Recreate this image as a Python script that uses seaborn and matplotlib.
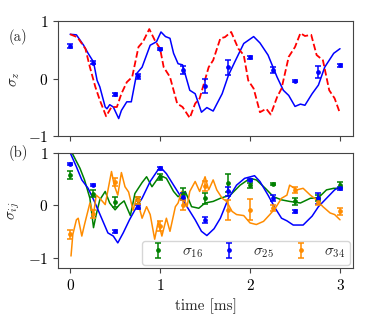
import numpy as np
import pandas as pd
import matplotlib
matplotlib.use("Agg")
import matplotlib.pyplot as plt
import seaborn as sns

# measurement times (ms)
t_meas = [0, 0.25, 0.5, 0.75, 1.0, 1.25, 1.5, 1.75, 2.0, 2.25, 2.5, 2.75, 3.0]

# panel (a): sigma_z measured
sz_meas = [0.57, 0.28, -0.27, 0.04, 0.51, 0.15, -0.13, 0.20, 0.37, 0.15, -0.04, 0.12, 0.23]
sz_err = [0.04, 0.02, 0.03, 0.05, 0.02, 0.07, 0.12, 0.13, 0.02, 0.05, 0.02, 0.10, 0.02]

# panel (a): simulation, solid blue
ta_blue = [0, 0.07, 0.15, 0.2, 0.26, 0.30, 0.33, 0.39, 0.41, 0.44, 0.48, 0.54, 0.57, 0.63,
           0.68, 0.74, 0.8, 0.89, 0.96, 1.01, 1.06, 1.11, 1.15, 1.2, 1.25, 1.33, 1.39, 1.46,
           1.52, 1.59, 1.69, 1.76, 1.83, 1.93, 2.04, 2.11, 2.2, 2.30, 2.37, 2.43, 2.5, 2.56,
           2.61, 2.69, 2.76, 2.83, 2.93, 3.0]
ya_blue = [0.77, 0.76, 0.58, 0.44, 0.29, -0.03, -0.14, -0.49, -0.52, -0.45, -0.49, -0.69, -0.55, -0.40,
           -0.40, 0.09, 0.20, 0.58, 0.64, 0.81, 0.73, 0.70, 0.44, 0.26, 0.24, -0.20, -0.26, -0.58,
           -0.50, -0.56, -0.26, 0.06, 0.29, 0.61, 0.73, 0.62, 0.41, 0.03, -0.20, -0.29, -0.48, -0.44,
           -0.46, -0.26, -0.11, 0.20, 0.44, 0.52]

# panel (a): ideal, dashed red
ta_red = [0, 0.08, 0.17, 0.22, 0.28, 0.33, 0.4, 0.46, 0.52, 0.57, 0.63, 0.69, 0.76, 0.81,
          0.88, 0.94, 1.0, 1.04, 1.11, 1.19, 1.25, 1.33, 1.39, 1.44, 1.54, 1.59, 1.67, 1.72,
          1.79, 1.87, 1.93, 1.98, 2.04, 2.11, 2.18, 2.23, 2.30, 2.35, 2.43, 2.5, 2.56, 2.61,
          2.68, 2.74, 2.81, 2.88, 2.94, 3.0]
ya_red = [0.77, 0.72, 0.52, 0.20, -0.14, -0.37, -0.65, -0.49, -0.49, -0.26, -0.06, 0.03, 0.55, 0.64,
          0.86, 0.67, 0.52, 0.20, 0.03, -0.43, -0.49, -0.68, -0.43, -0.34, 0.20, 0.32, 0.70, 0.72,
          0.81, 0.52, 0.41, -0.03, -0.17, -0.58, -0.52, -0.62, -0.32, -0.17, 0.38, 0.55, 0.79, 0.74,
          0.76, 0.41, 0.32, -0.20, -0.34, -0.60]

# panel (b): measured correlations
s16 = [0.57, 0.22, 0.06, 0.09, 0.54, 0.22, 0.13, 0.42, 0.38, 0.41, 0.07, 0.14, 0.38]
s16_err = [0.08, 0.07, 0.10, 0.06, 0.06, 0.10, 0.10, 0.17, 0.05, 0.02, 0.06, 0.06, 0.06]
s25 = [0.79, 0.38, -0.50, -0.03, 0.70, 0.16, -0.28, 0.26, 0.48, 0.13, -0.12, 0.13, 0.32]
s25_err = [0.02, 0.02, 0.03, 0.04, 0.03, 0.07, 0.06, 0.09, 0.02, 0.06, 0.03, 0.10, 0.03]
s34 = [-0.56, -0.17, 0.44, 0.09, -0.40, 0.0, 0.36, -0.09, -0.09, -0.05, 0.29, 0.06, -0.12]
s34_err = [0.08, 0.07, 0.07, 0.06, 0.10, 0.10, 0.10, 0.19, 0.20, 0.06, 0.06, 0.06, 0.06]

# panel (b): simulations
tb_green = [0.02, 0.11, 0.16, 0.22, 0.26, 0.29, 0.33, 0.39, 0.44, 0.5, 0.55, 0.6, 0.67, 0.72,
            0.8, 0.85, 0.91, 1.0, 1.07, 1.15, 1.2, 1.28, 1.35, 1.43, 1.5, 1.59, 1.67, 1.78,
            1.89, 2.0, 2.07, 2.17, 2.26, 2.35, 2.44, 2.56, 2.67, 2.76, 2.85, 2.93, 3.0]
yb_green = [1.0, 0.70, 0.48, 0.13, -0.43, -0.18, 0.10, 0.26, 0.04, -0.09, 0.01, 0.08, -0.20, 0.22,
            0.43, 0.54, 0.35, 0.57, 0.51, 0.26, 0.16, 0.26, -0.03, -0.06, 0.04, 0.07, 0.13, 0.19,
            0.38, 0.51, 0.48, 0.32, 0.16, 0.10, 0.07, 0.04, 0.13, 0.14, 0.29, 0.32, 0.32]
tb_blue = [0.0, 0.07, 0.13, 0.2, 0.27, 0.35, 0.42, 0.48, 0.53, 0.59, 0.66, 0.74, 0.8, 0.89,
           1.0, 1.07, 1.15, 1.22, 1.31, 1.39, 1.46, 1.52, 1.6, 1.67, 1.76, 1.85, 1.94, 2.05,
           2.11, 2.2, 2.28, 2.35, 2.41, 2.48, 2.59, 2.69, 2.76, 2.85, 2.94, 3.0]
yb_blue = [1.0, 0.73, 0.48, 0.32, 0.07, -0.25, -0.53, -0.59, -0.72, -0.53, -0.28, -0.03, 0.13, 0.45,
           0.73, 0.60, 0.38, 0.19, -0.06, -0.28, -0.50, -0.58, -0.45, -0.25, 0.13, 0.38, 0.51, 0.56,
           0.45, 0.19, -0.06, -0.25, -0.30, -0.38, -0.38, -0.21, -0.03, 0.13, 0.29, 0.35]
tb_orange = [0.01, 0.03, 0.07, 0.09, 0.13, 0.16, 0.22, 0.26, 0.29, 0.33, 0.39, 0.46, 0.49, 0.53,
             0.57, 0.61, 0.65, 0.7, 0.74, 0.76, 0.8, 0.85, 0.89, 0.94, 0.98, 1.02, 1.07, 1.11,
             1.17, 1.2, 1.24, 1.3, 1.33, 1.39, 1.44, 1.5, 1.54, 1.59, 1.63, 1.69, 1.74, 1.8,
             1.85, 1.93, 2.0, 2.07, 2.15, 2.22, 2.28, 2.35, 2.41, 2.44, 2.52, 2.59, 2.67, 2.74,
             2.81, 2.89, 2.94, 3.0]
yb_orange = [-0.97, -0.56, -0.28, -0.25, -0.59, -0.37, 0.04, -0.18, 0.19, 0.13, 0.01, 0.64, 0.38, 0.19,
             0.62, 0.35, 0.25, -0.10, 0.16, 0.01, -0.25, -0.03, -0.18, -0.65, -0.31, -0.59, -0.25, -0.50,
             -0.03, 0.04, 0.26, -0.03, 0.26, 0.45, 0.26, 0.54, 0.29, 0.48, 0.29, 0.13, 0.07, -0.12,
             -0.18, -0.20, -0.34, -0.37, -0.31, -0.18, -0.06, 0.13, 0.19, 0.38, 0.29, 0.32, 0.19, 0.10,
             -0.03, -0.15, -0.18, -0.28]

sns.set_style("ticks")
plt.rcParams['font.family'] = ['cmr10', 'DejaVu Serif']
plt.rcParams['mathtext.fontset'] = 'cm'
plt.rcParams['axes.formatter.use_mathtext'] = True
plt.rcParams['axes.unicode_minus'] = True
plt.rcParams['font.size'] = 11
plt.rcParams['axes.edgecolor'] = '#444444'
plt.rcParams['xtick.color'] = '#444444'
plt.rcParams['ytick.color'] = '#444444'
plt.rcParams['xtick.labelcolor'] = 'black'
plt.rcParams['ytick.labelcolor'] = 'black'

fig, (ax1, ax2) = plt.subplots(2, 1, figsize=(3.74, 3.18), dpi=100, sharex=True)
fig.subplots_adjust(left=0.155, right=0.944, top=0.934, bottom=0.157, hspace=0.14)

eb = dict(fmt='o', markersize=2.4, capsize=2.3, elinewidth=1.1, capthick=1.1)

# (a)
sns.lineplot(x=ta_blue, y=ya_blue, ax=ax1, color='blue', lw=1.1)
sns.lineplot(x=ta_red, y=ya_red, ax=ax1, color='red', lw=1.3, linestyle='--')
ax1.errorbar(t_meas, sz_meas, yerr=sz_err, color='blue', **eb)
ax1.set_ylim(-1, 1)
ax1.set_yticks([-1, 0, 1])
ax1.set_ylabel(r'$\sigma_z$')
ax1.tick_params(labelbottom=False)

# (b)
sns.lineplot(x=tb_green, y=yb_green, ax=ax2, color='green', lw=1.1)
sns.lineplot(x=tb_blue, y=yb_blue, ax=ax2, color='blue', lw=1.1)
sns.lineplot(x=tb_orange, y=yb_orange, ax=ax2, color='darkorange', lw=1.1)
ax2.errorbar(t_meas, s16, yerr=s16_err, color='green', label=r'$\sigma_{16}$', **eb)
ax2.errorbar(t_meas, s25, yerr=s25_err, color='blue', label=r'$\sigma_{25}$', **eb)
ax2.errorbar(t_meas, s34, yerr=s34_err, color='darkorange', label=r'$\sigma_{34}$', **eb)
ax2.set_ylim(-1.2, 1)
ax2.set_yticks([-1, 0, 1])
ax2.set_ylabel(r'$\sigma_{ij}$')
ax2.set_xlabel('time [ms]')
ax2.set_xlim(-0.135, 3.145)
ax2.set_xticks([0, 1, 2, 3])
ax2.legend(loc='lower right', ncol=3, fontsize=11, borderpad=0.3, handletextpad=0.8,
           columnspacing=1.0, borderaxespad=0.2, handlelength=1.5)

fig.text(0.022, 0.87, '(a)', fontsize=10.5)
fig.text(0.022, 0.505, '(b)', fontsize=10.5)

plt.savefig('out.png', dpi=100)
